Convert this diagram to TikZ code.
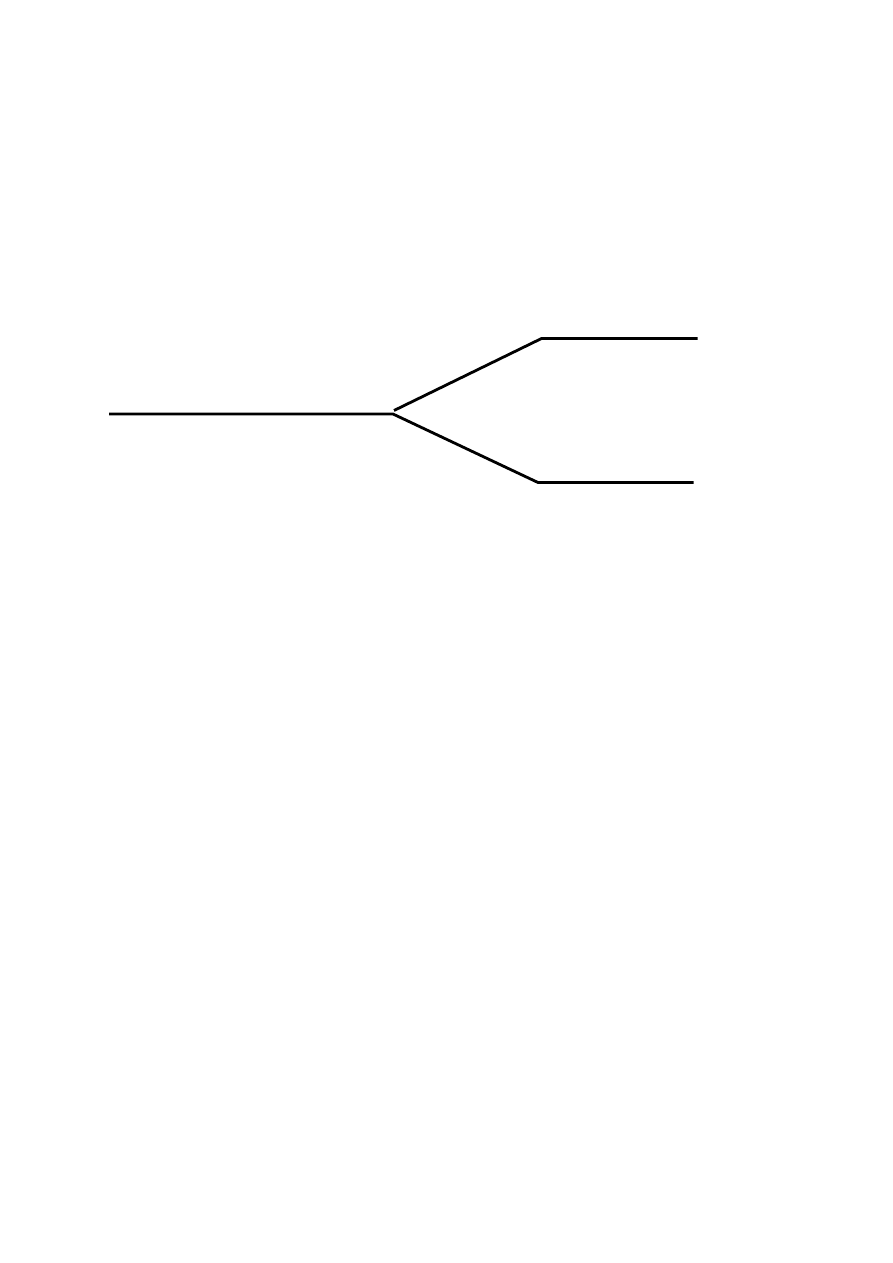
\documentclass[tikz,border=0pt]{standalone}
\begin{document}
\begin{tikzpicture}[x=1pt,y=-1pt,
  branchline/.style={line width=2.8pt,black,line cap=butt,line join=miter}]
\useasboundingbox[fill=white] (0,0) rectangle (893,1263);
\coordinate (start) at (109,414);
\coordinate (split) at (393,414);
\coordinate (splitup) at (394,410.5);
\coordinate (upbend) at (541.5,338.5);
\coordinate (upend) at (697.5,338.5);
\coordinate (lowbend) at (538,482.5);
\coordinate (lowend) at (693.5,482.5);
\draw[branchline] (start) -- (split) -- (lowbend) -- (lowend);
\draw[branchline] (splitup) -- (upbend) -- (upend);
\end{tikzpicture}
\end{document}
